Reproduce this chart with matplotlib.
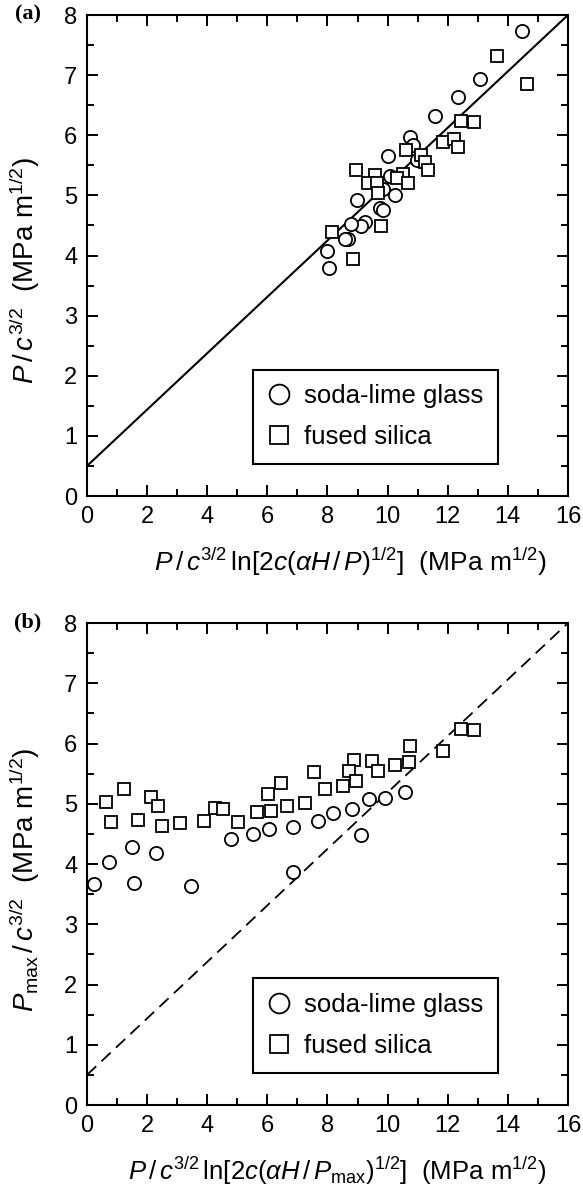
import matplotlib
matplotlib.use('Agg')
import matplotlib.pyplot as plt
from matplotlib.ticker import MultipleLocator

plt.rcParams['font.family'] = ['Liberation Sans', 'DejaVu Sans']
plt.rcParams['mathtext.fontset'] = 'custom'
plt.rcParams['mathtext.rm'] = 'Liberation Sans'
plt.rcParams['mathtext.it'] = 'Liberation Sans:italic'
plt.rcParams['mathtext.bf'] = 'Liberation Sans:bold'

# (a) data
sl_a_x = [14.46, 13.07, 12.33, 11.59, 10.76, 10.86, 10.00, 10.97, 10.08, 9.86, 10.26,
          8.97, 9.75, 9.86, 9.25, 9.11, 8.77, 8.69, 8.58, 8.00, 8.06]
sl_a_y = [7.74, 6.93, 6.64, 6.32, 5.97, 5.83, 5.65, 5.59, 5.32, 5.10, 5.00,
          4.92, 4.79, 4.76, 4.55, 4.49, 4.53, 4.27, 4.27, 4.07, 3.80]
fs_a_x = [13.63, 14.63, 12.44, 12.89, 11.83, 12.22, 12.34, 10.60, 11.10, 11.24, 11.36,
          8.95, 9.58, 10.52, 10.30, 9.36, 9.64, 10.67, 9.69, 9.78, 8.14, 8.86]
fs_a_y = [7.31, 6.85, 6.24, 6.22, 5.89, 5.94, 5.81, 5.76, 5.67, 5.55, 5.43,
          5.43, 5.34, 5.36, 5.29, 5.21, 5.20, 5.20, 5.04, 4.49, 4.39, 3.95]

# (b) data
sl_b_x = [0.24, 0.73, 1.49, 1.57, 2.28, 3.46, 4.78, 5.51, 6.07, 6.84, 6.84,
          7.70, 8.17, 8.82, 9.10, 9.39, 9.92, 10.59]
sl_b_y = [3.67, 4.03, 4.29, 3.68, 4.19, 3.64, 4.41, 4.49, 4.58, 4.61, 3.86,
          4.72, 4.84, 4.92, 4.48, 5.08, 5.10, 5.19]
fs_b_x = [0.62, 0.80, 1.24, 1.71, 2.12, 2.35, 2.51, 3.09, 3.89, 4.26, 4.51, 5.01,
          5.65, 6.12, 6.01, 6.45, 6.67, 7.25, 7.56, 7.92, 8.50, 8.88, 8.73, 8.95,
          9.47, 9.69, 10.25, 10.75, 10.72, 11.85, 12.44, 12.88]
fs_b_y = [5.03, 4.70, 5.24, 4.73, 5.12, 4.96, 4.63, 4.68, 4.71, 4.93, 4.91, 4.70,
          4.87, 4.88, 5.16, 5.34, 4.96, 5.02, 5.52, 5.24, 5.30, 5.73, 5.54, 5.38,
          5.71, 5.54, 5.65, 5.96, 5.70, 5.88, 6.24, 6.22]

# reference line P/c^3/2 = 0.5 + 0.469 x
line_x = [0, 16]
line_y = [0.5, 8]

xlabel_a = r'$\mathit{P}\,/\,\mathit{c}^{3/2}\,\mathrm{ln}[2\mathit{c}(\alpha\mathit{H}\,/\,\mathit{P})^{1/2}]$  (MPa m$^{1/2}$)'
ylabel_a = r'$\mathit{P}\,/\,\mathit{c}^{3/2}$  (MPa m$^{1/2}$)'
xlabel_b = r'$\mathit{P}\,/\,\mathit{c}^{3/2}\,\mathrm{ln}[2\mathit{c}(\alpha\mathit{H}\,/\,\mathit{P}_{\mathrm{max}})^{1/2}]$  (MPa m$^{1/2}$)'
ylabel_b = r'$\mathit{P}_{\mathrm{max}}\,/\,\mathit{c}^{3/2}$  (MPa m$^{1/2}$)'

fig = plt.figure(figsize=(5.83, 11.91), dpi=100)
ax1 = fig.add_axes([0.1492, 0.5835, 0.825, 0.4039])
ax2 = fig.add_axes([0.1492, 0.0722, 0.825, 0.4047])

mk = dict(linestyle='none', mfc='white', mec='black', mew=1.3)


def style(ax, xl, yl, xl_x, xl_size):
    ax.set_xlim(0, 16)
    ax.set_ylim(0, 8)
    ax.xaxis.set_major_locator(MultipleLocator(2))
    ax.xaxis.set_minor_locator(MultipleLocator(1))
    ax.yaxis.set_major_locator(MultipleLocator(1))
    ax.yaxis.set_minor_locator(MultipleLocator(0.5))
    ax.tick_params(which='both', direction='in', top=True, right=True, width=1.4,
                   labelsize=17, pad=7)
    ax.tick_params(which='major', length=8)
    ax.tick_params(which='minor', length=5)
    for s in ax.spines.values():
        s.set_linewidth(1.5)
    ax.set_xlabel(xl, fontsize=xl_size)
    ax.set_ylabel(yl, fontsize=20)
    ax.xaxis.set_label_coords(xl_x, -0.103)
    ax.yaxis.set_label_coords(-0.094, 0.468)
    leg = ax.legend(loc='lower left', bbox_to_anchor=(0.345, 0.066), fontsize=18.5,
                    fancybox=False, edgecolor='black', framealpha=1,
                    markerscale=1.5, handletextpad=0.5, borderpad=0.58,
                    labelspacing=0.66, handlelength=0.9, borderaxespad=0)
    leg.get_frame().set_linewidth(1.5)


ax1.plot(line_x, line_y, color='black', lw=1.5, zorder=1)
ax1.plot(sl_a_x, sl_a_y, marker='o', ms=9.5, label='soda-lime glass', **mk)
ax1.plot(fs_a_x, fs_a_y, marker='s', ms=8.5, label='fused silica', **mk)
style(ax1, xlabel_a, ylabel_a, 0.547, 19)

ax2.plot(line_x, line_y, color='black', lw=1.3, linestyle=(0, (7, 4)), zorder=1)
ax2.plot(sl_b_x, sl_b_y, marker='o', ms=9.5, label='soda-lime glass', **mk)
ax2.plot(fs_b_x, fs_b_y, marker='s', ms=8.5, label='fused silica', **mk)
style(ax2, xlabel_b, ylabel_b, 0.52, 18.5)

fig.text(0.048, 0.988, '(a)', fontsize=16, fontweight='bold',
         family='Liberation Serif', ha='center', va='center')
fig.text(0.048, 0.477, '(b)', fontsize=16, fontweight='bold',
         family='Liberation Serif', ha='center', va='center')

plt.savefig('out.png', dpi=100)
